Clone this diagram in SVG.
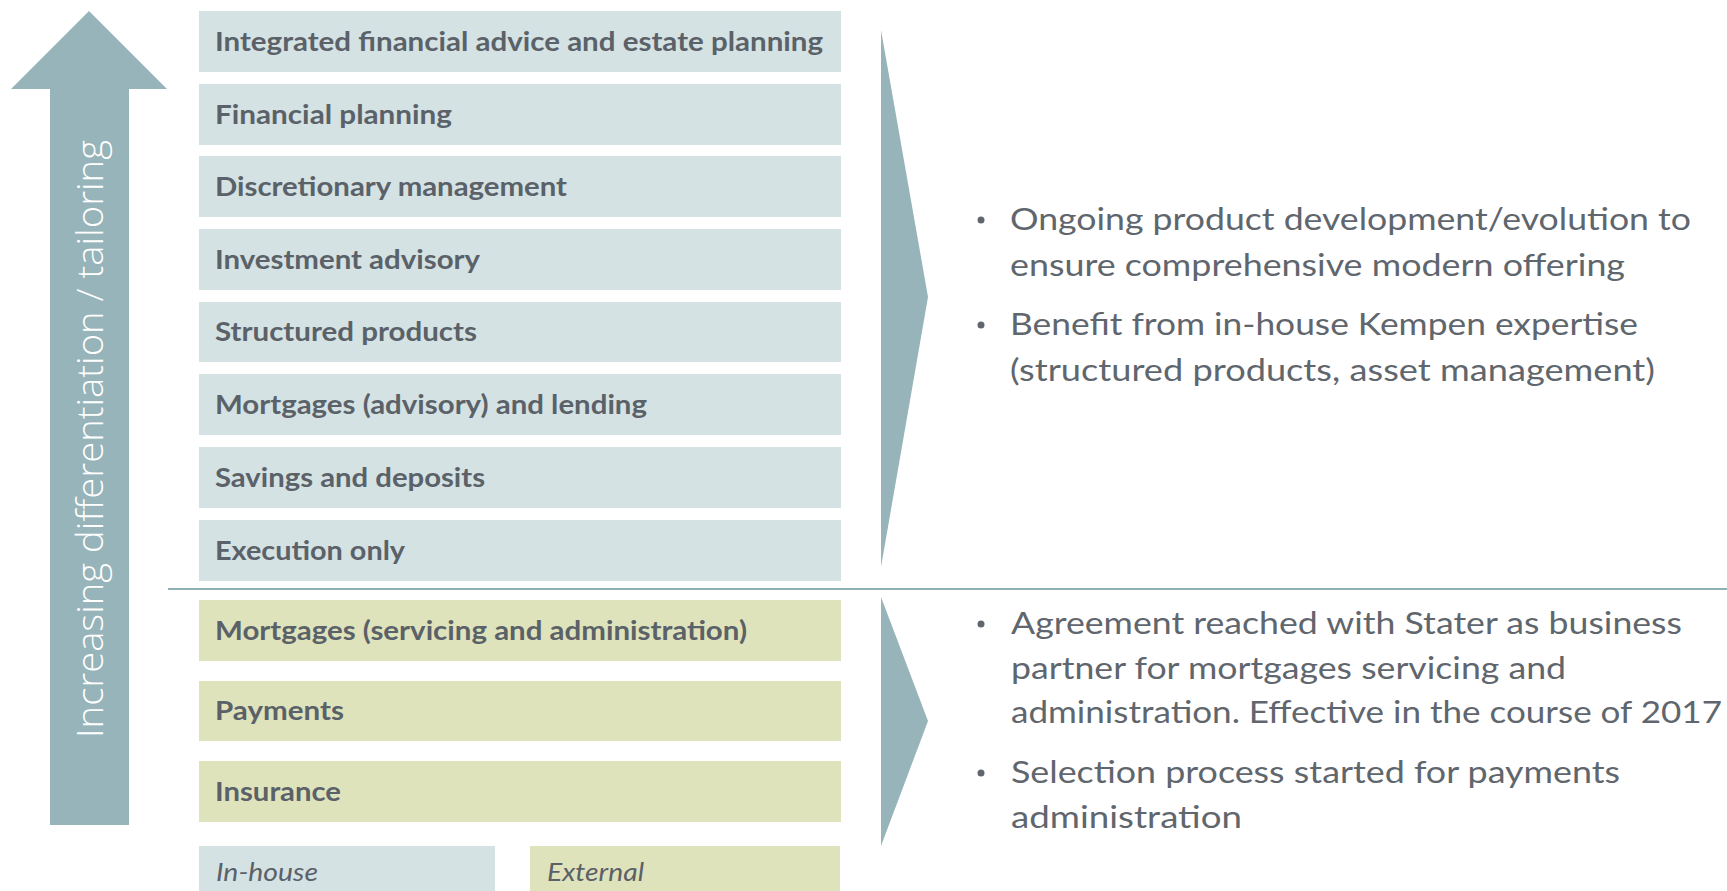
<svg xmlns="http://www.w3.org/2000/svg" width="1727" height="891" viewBox="0 0 1727 891">
  <style>
    .inh { fill: #d4e2e3; }
    .ext { fill: #dfe3bb; }
    .shape { fill: #96b4b9; }
    .lbl { font-family: Lato, "Liberation Sans", sans-serif; font-weight: 700; font-size: 26px; fill: #5a6168; }
    .leg { font-family: Lato, "Liberation Sans", sans-serif; font-style: italic; font-size: 26px; fill: #5a6168; }
    .body { font-family: Lato, "Liberation Sans", sans-serif; font-size: 30px; fill: #5f666d; }
    .dot { fill: #5f666d; }
    .axis { font-family: "Open Sans", "Liberation Sans", sans-serif; font-weight: 300; font-size: 36px; fill: #ffffff; }
  </style>

  <!-- upward arrow with axis caption -->
  <g id="axis-arrow">
    <polygon class="shape" points="89,11 167,89 129,89 129,825 50,825 50,89 11,89"/>
    <text class="axis" transform="translate(103,439) rotate(-90)" text-anchor="middle" textLength="598" lengthAdjust="spacingAndGlyphs">Increasing differentiation / tailoring</text>
  </g>

  <!-- in-house products -->
  <g id="integrated-advice"><rect class="inh" x="199" y="11" width="642" height="61"/><text class="lbl" x="215" y="51" textLength="608" lengthAdjust="spacingAndGlyphs">Integrated financial advice and estate planning</text></g>
  <g id="financial-planning"><rect class="inh" x="199" y="84" width="642" height="61"/><text class="lbl" x="215" y="124" textLength="237" lengthAdjust="spacingAndGlyphs">Financial planning</text></g>
  <g id="discretionary-management"><rect class="inh" x="199" y="156" width="642" height="61"/><text class="lbl" x="215" y="196" textLength="352" lengthAdjust="spacingAndGlyphs">Discretionary management</text></g>
  <g id="investment-advisory"><rect class="inh" x="199" y="229" width="642" height="61"/><text class="lbl" x="215" y="269" textLength="265" lengthAdjust="spacingAndGlyphs">Investment advisory</text></g>
  <g id="structured-products"><rect class="inh" x="199" y="302" width="642" height="60"/><text class="lbl" x="215" y="341" textLength="262" lengthAdjust="spacingAndGlyphs">Structured products</text></g>
  <g id="mortgages-advisory"><rect class="inh" x="199" y="374" width="642" height="61"/><text class="lbl" x="215" y="414" textLength="432" lengthAdjust="spacingAndGlyphs">Mortgages (advisory) and lending</text></g>
  <g id="savings-deposits"><rect class="inh" x="199" y="447" width="642" height="61"/><text class="lbl" x="215" y="487" textLength="270" lengthAdjust="spacingAndGlyphs">Savings and deposits</text></g>
  <g id="execution-only"><rect class="inh" x="199" y="520" width="642" height="61"/><text class="lbl" x="215" y="560" textLength="190" lengthAdjust="spacingAndGlyphs">Execution only</text></g>

  <!-- external products -->
  <g id="mortgages-servicing"><rect class="ext" x="199" y="600" width="642" height="61"/><text class="lbl" x="215" y="640" textLength="532" lengthAdjust="spacingAndGlyphs">Mortgages (servicing and administration)</text></g>
  <g id="payments"><rect class="ext" x="199" y="681" width="642" height="60"/><text class="lbl" x="215" y="720" textLength="129" lengthAdjust="spacingAndGlyphs">Payments</text></g>
  <g id="insurance"><rect class="ext" x="199" y="761" width="642" height="61"/><text class="lbl" x="215" y="801" textLength="126" lengthAdjust="spacingAndGlyphs">Insurance</text></g>

  <!-- legend -->
  <g id="legend-inhouse"><rect class="inh" x="199" y="846" width="296" height="45"/><text class="leg" x="216" y="881" textLength="102" lengthAdjust="spacingAndGlyphs">In-house</text></g>
  <g id="legend-external"><rect class="ext" x="530" y="846" width="310" height="45"/><text class="leg" x="547" y="881" textLength="97" lengthAdjust="spacingAndGlyphs">External</text></g>

  <!-- divider and chevrons -->
  <g id="connectors">
    <line x1="168" y1="589" x2="1727" y2="589" stroke="#8fb0b5" stroke-width="2"/>
    <polygon class="shape" points="881,30 928,297 881,567"/>
    <polygon class="shape" points="881,597 928,721 881,846"/>
  </g>

  <!-- notes for the in-house range -->
  <g id="notes-inhouse">
    <circle class="dot" cx="981" cy="220" r="3.5"/>
    <text class="body" x="1010" y="230" textLength="681" lengthAdjust="spacingAndGlyphs">Ongoing product development/evolution to</text>
    <text class="body" x="1010" y="276" textLength="615" lengthAdjust="spacingAndGlyphs">ensure comprehensive modern offering</text>
    <circle class="dot" cx="981" cy="325" r="3.5"/>
    <text class="body" x="1010" y="335" textLength="628" lengthAdjust="spacingAndGlyphs">Benefit from in-house Kempen expertise</text>
    <text class="body" x="1010" y="381" textLength="645" lengthAdjust="spacingAndGlyphs">(structured products, asset management)</text>
  </g>

  <!-- notes for the external range -->
  <g id="notes-external">
    <circle class="dot" cx="981" cy="624" r="3.5"/>
    <text class="body" x="1011" y="634" textLength="671" lengthAdjust="spacingAndGlyphs">Agreement reached with Stater as business</text>
    <text class="body" x="1011" y="679" textLength="555" lengthAdjust="spacingAndGlyphs">partner for mortgages servicing and</text>
    <text class="body" x="1011" y="723" textLength="711" lengthAdjust="spacingAndGlyphs">administration. Effective in the course of 2017</text>
    <circle class="dot" cx="981" cy="773" r="3.5"/>
    <text class="body" x="1011" y="783" textLength="609" lengthAdjust="spacingAndGlyphs">Selection process started for payments</text>
    <text class="body" x="1011" y="828" textLength="231" lengthAdjust="spacingAndGlyphs">administration</text>
  </g>
</svg>
